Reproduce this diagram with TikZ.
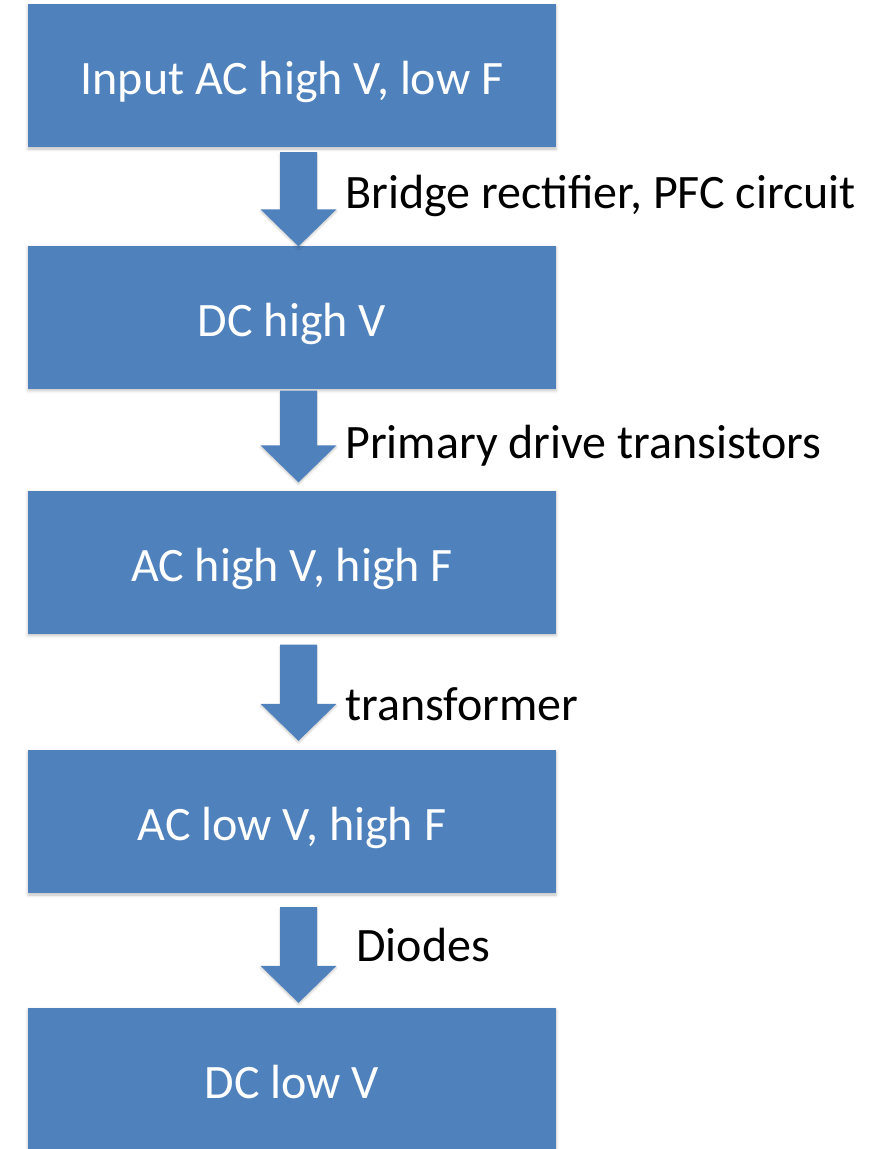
\documentclass[tikz,border=0pt]{standalone}
\usepackage{fontspec}
\setmainfont{Carlito}
\usetikzlibrary{calc,shadows.blur}
\definecolor{boxblue}{HTML}{4F81BD}
\tikzset{
  stage/.style={fill=boxblue, draw=none, minimum width=528pt, minimum height=143pt,
    inner sep=0pt, text=white, font=\fontsize{48}{56}\selectfont,
    text height=38pt, text depth=0pt,
    blur shadow={shadow xshift=0pt, shadow yshift=-2pt, shadow blur radius=3pt, shadow opacity=25}},
  steplabel/.style={anchor=base west, inner sep=0pt, text=black, font=\fontsize{48}{56}\selectfont},
  flowarrow/.style={fill=boxblue,
    blur shadow={shadow xshift=0pt, shadow yshift=-2pt, shadow blur radius=2pt, shadow opacity=20}}
}
\newcommand\blockarrow[2]{%
  \path[flowarrow] let \p1=(#1), \p2=(#2) in
    (\x1-18.5pt,\y1) -- (\x1+18.5pt,\y1) -- (\x1+18.5pt,\y2+37pt) -- (\x1+38pt,\y2+37pt)
    -- (\x1,\y2) -- (\x1-38pt,\y2+37pt) -- (\x1-18.5pt,\y2+37pt) -- cycle;}
\begin{document}
\begin{tikzpicture}[x=1pt,y=-1pt]
\useasboundingbox (0,0) rectangle (887,1149);
\node[stage] (b1) at (292,75.5) {Input AC high V, low F};
\node[stage] (b2) at (292,317) {DC high V};
\node[stage] (b3) at (292,562) {AC high V, high F};
\node[stage] (b4) at (292,821.5) {AC low V, high F};
\node[stage] (b5) at (292,1079.5) {DC low V};
\coordinate (a1t) at ($(b1.south)+(6.5,5)$);
\coordinate (a1b) at ($(b2.north)+(6.5,1)$);
\coordinate (a2t) at ($(b2.south)+(6.5,2)$);
\coordinate (a2b) at ($(b3.north)+(6.5,-8)$);
\coordinate (a3t) at ($(b3.south)+(6.5,11)$);
\coordinate (a3b) at ($(b4.north)+(6.5,-9)$);
\coordinate (a4t) at ($(b4.south)+(6.5,14)$);
\coordinate (a4b) at ($(b5.north)+(6.5,-5)$);
\blockarrow{a1t}{a1b}
\blockarrow{a2t}{a2b}
\blockarrow{a3t}{a3b}
\blockarrow{a4t}{a4b}
\node[steplabel] (l1) at (345,208) {Bridge rectifier, PFC circuit};
\node[steplabel] (l2) at (345,458) {Primary drive transistors};
\node[steplabel] (l3) at (345,720) {transformer};
\node[steplabel] (l4) at (356,961) {Diodes};
\end{tikzpicture}
\end{document}
